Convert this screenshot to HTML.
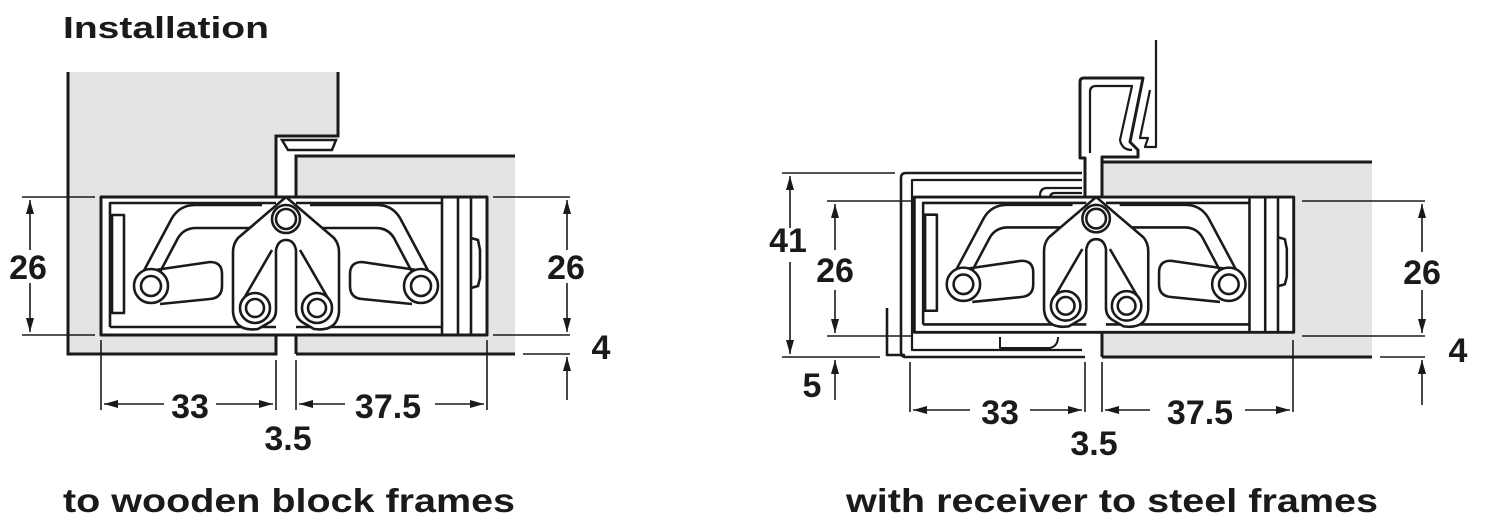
<!DOCTYPE html>
<html><head><meta charset="utf-8"><style>
html,body{margin:0;padding:0;background:#fff}
svg{display:block}
text{font-family:"Liberation Sans",Arial,sans-serif;font-weight:bold;fill:#1a1a1a}
</style></head><body>
<svg width="1488" height="525" viewBox="0 0 1488 525" xmlns="http://www.w3.org/2000/svg">
<defs>
<marker id="ah" viewBox="0 0 14 8" refX="14" refY="4" markerWidth="14" markerHeight="8" markerUnits="userSpaceOnUse" orient="auto-start-reverse">
<path d="M0,0 L14,4 L0,8 Z" fill="#1a1a1a"/></marker>
<g id="hinge" fill="none" stroke="#1a1a1a" stroke-width="2.6" stroke-linejoin="round">
  <rect x="101" y="197" width="386" height="138" fill="#fff" stroke-width="3"/>
  <path d="M110,327 L110,203 L276,203 M296,203 L442,203 M110,327 L276,327 M296,327 L442,327"/>
  <rect x="112" y="215" width="12" height="98"/>
  <path d="M442,197 L442,335 M458,197 L458,335 M471,197 L471,335"/>
  <path d="M471,238 L478,240 L480,250 L480,278 L478,286 L471,288"/>
  <path d="M140,278 L172,218 Q180,205 195,205 L262,205"/>
  <path d="M160,272 L178,238 Q184,228 196,228 L252,228"/>
  <path d="M155,270 L210,262 Q222,262 222,274 L222,286 Q222,298 210,299 L160,304"/>
  <circle cx="151" cy="286" r="17" fill="#fff"/>
  <circle cx="151" cy="286" r="10"/>
  <path d="M432,278 L400,218 Q392,205 377,205 L310,205"/>
  <path d="M412,272 L394,238 Q388,228 376,228 L320,228"/>
  <path d="M417,270 L362,262 Q350,262 350,274 L350,286 Q350,298 362,299 L412,304"/>
  <circle cx="421" cy="286" r="17" fill="#fff"/>
  <circle cx="421" cy="286" r="10"/>
  <path d="M286,197 L238,238 Q233,244 233,252 L233,312 Q235,332 258,329 L270,322 Q276,318 276,310 L276,250 Q278,240 286,240 Q294,240 296,250 L296,310 Q296,318 302,322 L314,329 Q337,332 339,312 L339,252 Q339,244 334,238 Z" fill="#fff"/>
  <path d="M272,250 L243,300 M300,250 L329,300"/>
  <circle cx="255" cy="308" r="15" fill="#fff"/><circle cx="255" cy="308" r="9"/>
  <circle cx="317" cy="308" r="15" fill="#fff"/><circle cx="317" cy="308" r="9"/>
  <circle cx="286" cy="219" r="14" fill="#fff"/><circle cx="286" cy="219" r="10"/>
</g>
</defs>

<text x="63" y="38" font-size="31" textLength="206" lengthAdjust="spacingAndGlyphs">Installation</text>
<text x="63" y="512" font-size="33" textLength="452" lengthAdjust="spacingAndGlyphs">to wooden block frames</text>
<text x="846" y="512" font-size="33" textLength="532" lengthAdjust="spacingAndGlyphs">with receiver to steel frames</text>

<path d="M68,72 L338,72 L338,135 L276,135 L276,354 L68,354 Z" fill="#e3e4e5"/>
<path d="M296,156 L515,156 L515,354 L296,354 Z" fill="#e3e4e5"/>
<g fill="none" stroke="#1a1a1a" stroke-width="3">
  <path d="M68,72 L68,354 L276,354 L276,136 L338,136 L338,72"/>
  <path d="M282,140 L336,140 L332,150 L288,150 Z" fill="#fff" stroke-width="2.5"/>
  <path d="M296,354 L296,156 L515,156"/>
  <path d="M296,354 L515,354"/>
</g>
<use href="#hinge"/>
<g stroke="#1a1a1a" stroke-width="1.6" fill="none">
  <path d="M22,197 L95,197 M22,335 L95,335"/>
  <line x1="30" y1="200" x2="30" y2="250" marker-start="url(#ah)"/>
  <line x1="30" y1="283" x2="30" y2="332" marker-end="url(#ah)"/>
  <path d="M493,197 L570,197 M493,335 L570,335 M523,354 L570,354"/>
  <line x1="567" y1="200" x2="567" y2="250" marker-start="url(#ah)"/>
  <line x1="567" y1="283" x2="567" y2="332" marker-end="url(#ah)"/>
  <line x1="567" y1="400" x2="567" y2="357" marker-end="url(#ah)"/>
  <path d="M101,340 L101,410 M276,360 L276,410 M296,360 L296,410 M487,340 L487,410"/>
  <line x1="164" y1="404" x2="104" y2="404" marker-end="url(#ah)"/>
  <line x1="216" y1="404" x2="273" y2="404" marker-end="url(#ah)"/>
  <line x1="345" y1="404" x2="299" y2="404" marker-end="url(#ah)"/>
  <line x1="435" y1="404" x2="484" y2="404" marker-end="url(#ah)"/>
</g>
<g font-size="34" text-anchor="middle">
  <text x="28" y="279">26</text>
  <text x="566" y="279">26</text>
  <text x="601" y="359">4</text>
  <text x="190" y="418">33</text>
  <text x="388" y="418">37.5</text>
  <text x="288" y="450">3.5</text>
</g>

<path d="M1102,162 L1372,162 L1372,357 L1102,357 Z" fill="#e3e4e5"/>
<g fill="none" stroke="#1a1a1a" stroke-width="3" stroke-linejoin="round">
  <path d="M1102,357 L1102,162 L1372,162 M1102,357 L1372,357"/>
  <path d="M1085,205 L1085,158 L1080,158 L1080,82 Q1080,78 1084,78 L1143,78 L1130,142 L1138,150 L1138,157 L1102,157 L1102,205"/>
  <path d="M1090,153 L1090,92 Q1090,86 1096,86 L1132,86 L1120,140 Q1122,150 1132,150" stroke-width="2.2"/>
  <path d="M1156,40 L1156,147 L1145,147 L1148,138 L1140,138 L1150,90" stroke-width="2.2"/>
  <path d="M1082,173 L906,173 Q901,173 901,178 L901,352 Q901,357 906,357 L1085,357" stroke-width="2.6"/>
  <path d="M1082,180 L912,180 L912,350 L1082,350" stroke-width="2.2"/>
  <path d="M1082,188 L1047,188 Q1040,188 1040,196 L1040,201 M1082,193 L1055,193 Q1050,193 1050,198" stroke-width="2.2"/>
  <path d="M887,308 L887,355 L905,355" stroke-width="2.6"/>
  <path d="M1000,337 L1000,348 L1050,348 Q1058,346 1058,337" stroke-width="2"/>
</g>
<use href="#hinge" transform="translate(815,4) scale(0.983,0.98)"/>
<g stroke="#1a1a1a" stroke-width="1.6" fill="none">
  <path d="M782,173 L895,173 M782,357 L880,357 M827,201 L912,201 M827,336 L912,336"/>
  <line x1="790" y1="176" x2="790" y2="228" marker-start="url(#ah)"/>
  <line x1="790" y1="262" x2="790" y2="354" marker-end="url(#ah)"/>
  <line x1="835" y1="204" x2="835" y2="250" marker-start="url(#ah)"/>
  <line x1="835" y1="290" x2="835" y2="333" marker-end="url(#ah)"/>
  <line x1="835" y1="400" x2="835" y2="360" marker-end="url(#ah)"/>
  <path d="M1302,201 L1425,201 M1302,336 L1425,336 M1380,357 L1425,357"/>
  <line x1="1422" y1="204" x2="1422" y2="252" marker-start="url(#ah)"/>
  <line x1="1422" y1="290" x2="1422" y2="333" marker-end="url(#ah)"/>
  <line x1="1422" y1="405" x2="1422" y2="360" marker-end="url(#ah)"/>
  <path d="M910,362 L910,412 M1085,362 L1085,412 M1102,362 L1102,412 M1293,340 L1293,412"/>
  <line x1="970" y1="410" x2="913" y2="410" marker-end="url(#ah)"/>
  <line x1="1030" y1="410" x2="1082" y2="410" marker-end="url(#ah)"/>
  <line x1="1150" y1="410" x2="1105" y2="410" marker-end="url(#ah)"/>
  <line x1="1245" y1="410" x2="1290" y2="410" marker-end="url(#ah)"/>
</g>
<g font-size="34" text-anchor="middle">
  <text x="788" y="252">41</text>
  <text x="835" y="282">26</text>
  <text x="812" y="397">5</text>
  <text x="1422" y="284">26</text>
  <text x="1458" y="362">4</text>
  <text x="1000" y="424">33</text>
  <text x="1200" y="424">37.5</text>
  <text x="1094" y="455">3.5</text>
</g>
</svg>
</body></html>
